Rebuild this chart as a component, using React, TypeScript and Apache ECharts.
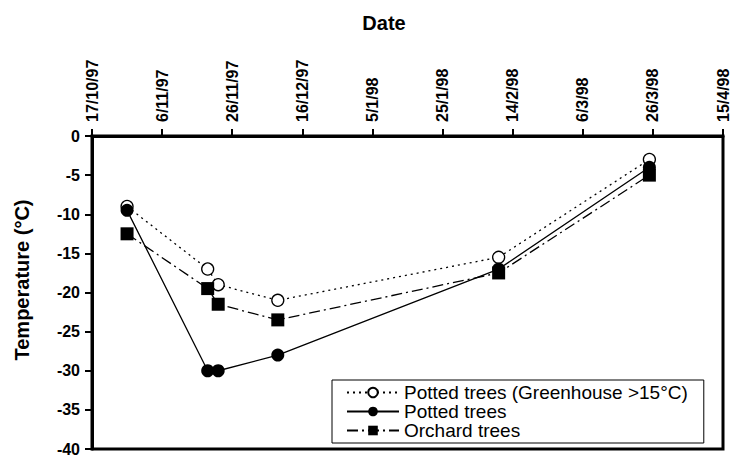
import React, { useEffect, useRef } from "react";
import * as echarts from "echarts";

const startDate = "17/10/97";
const xTickLabels = ["17/10/97", "6/11/97", "26/11/97", "16/12/97", "5/1/98", "25/1/98", "14/2/98", "6/3/98", "26/3/98", "15/4/98"];
const sampleDates = ["27/10/97", "19/11/97", "22/11/97", "9/12/97", "10/2/98", "25/3/98"];
const greenhouseTemps = [-9, -17, -19, -21, -15.5, -3];
const pottedTemps = [-9.5, -30, -30, -28, -17, -4];
const orchardTemps = [-12.5, -19.5, -21.5, -23.5, -17.5, -5];
const seriesNames = ["Potted trees (Greenhouse >15°C)", "Potted trees", "Orchard trees"];

const FONT = "'Liberation Sans', Arial, sans-serif";

function parseDate(s: string): number {
  const [d, m, y] = s.split("/").map(Number);
  return Date.UTC(1900 + y, m - 1, d);
}
function dayOffset(s: string): number {
  return Math.round((parseDate(s) - parseDate(startDate)) / 86400000);
}

export default function App() {
  const ref = useRef<HTMLDivElement>(null);
  useEffect(() => {
    document.body.style.margin = "0";
    const chart = echarts.init(ref.current!, null, { renderer: "svg" });
    const mk = (vals: number[]) => sampleDates.map((d, i) => [dayOffset(d), vals[i]]);
    const lastTick = dayOffset(xTickLabels[xTickLabels.length - 1]);
    const step = dayOffset(xTickLabels[1]);
    chart.setOption({
      animation: false,
      textStyle: { fontFamily: FONT },
      grid: {
        left: 92,
        right: 8,
        top: 136,
        bottom: 7,
        show: true,
        borderColor: "#000",
        borderWidth: 3,
        backgroundColor: "transparent",
      },
      graphic: [
        {
          type: "text",
          x: 384,
          y: 23,
          style: { text: "Date", font: `bold 20px ${FONT}`, fill: "#000", textAlign: "center", textVerticalAlign: "middle" },
        },
        {
          type: "text",
          x: 22,
          y: 280,
          rotation: Math.PI / 2,
          style: { text: "Temperature (°C)", font: `bold 20px ${FONT}`, fill: "#000", textAlign: "center", textVerticalAlign: "middle" },
        },
      ],
      xAxis: {
        type: "value",
        position: "top",
        min: 0,
        max: lastTick,
        interval: step,
        axisLine: { show: true, lineStyle: { color: "#000", width: 3 } },
        axisTick: { show: true, inside: false, length: 7, lineStyle: { color: "#000", width: 2 } },
        splitLine: { show: false },
        axisLabel: {
          rotate: 90,
          margin: 14,
          color: "#000",
          fontWeight: "bold",
          fontSize: 16,
          fontFamily: FONT,
          formatter: (v: number) => xTickLabels[Math.round(v / step)] ?? "",
        },
      },
      yAxis: {
        type: "value",
        min: -40,
        max: 0,
        interval: 5,
        axisLine: { show: true, lineStyle: { color: "#000", width: 3 } },
        axisTick: { show: true, inside: false, length: 7, lineStyle: { color: "#000", width: 2 } },
        splitLine: { show: false },
        axisLabel: { margin: 12, color: "#000", fontWeight: "bold", fontSize: 16, fontFamily: FONT },
      },
      legend: {
        orient: "vertical",
        left: 332,
        top: 380,
        backgroundColor: "#fff",
        borderColor: "#000",
        borderWidth: 1,
        borderRadius: 0,
        padding: [3, 16, 3, 14],
        itemGap: 0,
        itemWidth: 52,
        itemHeight: 12,
        itemTextGap: 5,
        textStyle: { fontSize: 19, color: "#000", fontFamily: FONT, lineHeight: 19 },
        data: seriesNames,
      },
      series: [
        {
          name: seriesNames[0],
          type: "line",
          data: mk(greenhouseTemps),
          symbol: "circle",
          symbolSize: 12,
          lineStyle: { color: "#000", width: 1.3, type: [2, 4] },
          itemStyle: { color: "#fff", borderColor: "#000", borderWidth: 1.3 },
          z: 2,
        },
        {
          name: seriesNames[1],
          type: "line",
          data: mk(pottedTemps),
          symbol: "circle",
          symbolSize: 13,
          lineStyle: { color: "#000", width: 1.3, type: "solid" },
          itemStyle: { color: "#000", borderColor: "#000", borderWidth: 0 },
          z: 3,
        },
        {
          name: seriesNames[2],
          type: "line",
          data: mk(orchardTemps),
          symbol: "rect",
          symbolSize: 13,
          lineStyle: { color: "#000", width: 1.3, type: [11, 4, 2, 4] },
          itemStyle: { color: "#000", borderColor: "#000", borderWidth: 0 },
          z: 4,
        },
      ],
    });
    return () => chart.dispose();
  }, []);
  return <div ref={ref} style={{ width: 731, height: 457 }} />;
}
